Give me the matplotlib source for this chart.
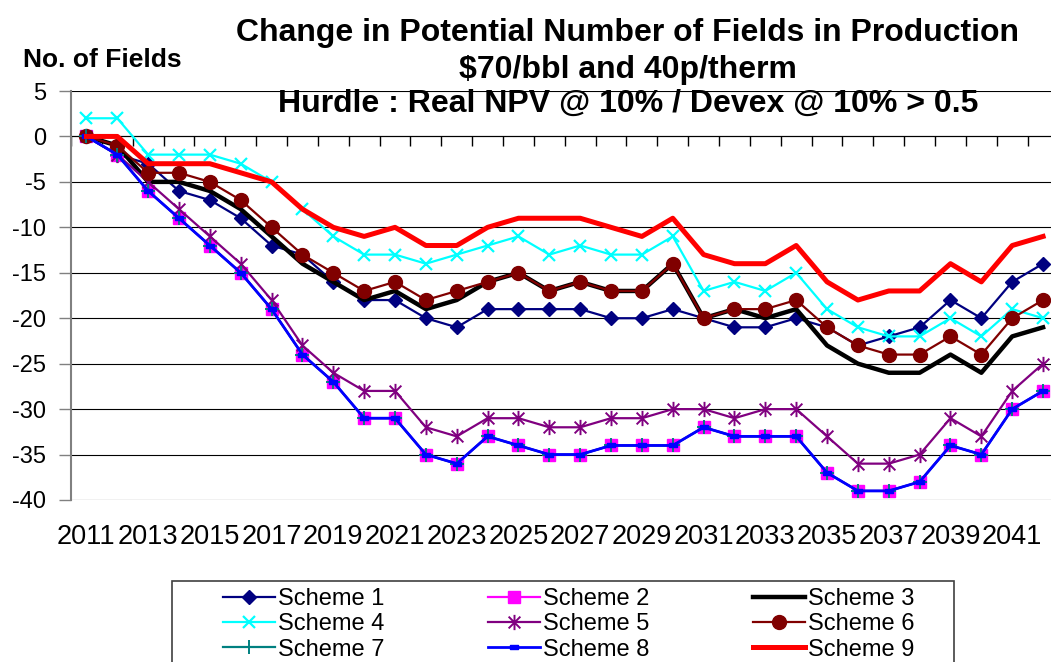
import numpy as np
import matplotlib
matplotlib.use("Agg")
import matplotlib.pyplot as plt
from matplotlib.path import Path
from matplotlib.patches import Rectangle

plt.rcParams['font.family'] = ['Liberation Sans', 'DejaVu Sans']
plt.rcParams['axes.unicode_minus'] = False

years = list(range(2011, 2043))

scheme1 = [0, -2, -3, -6, -7, -9, -12, -13, -16, -18,
           -18, -20, -21, -19, -19, -19, -19, -20, -20, -19,
           -20, -21, -21, -20, -21, -23, -22, -21, -18, -20, -16, -14]
scheme2 = [0, -2, -6, -9, -12, -15, -19, -24, -27, -31,
           -31, -35, -36, -33, -34, -35, -35, -34, -34, -34,
           -32, -33, -33, -33, -37, -39, -39, -38, -34, -35, -30, -28]
scheme3 = [0, -1, -5, -5, -6, -8, -11, -14, -16, -18,
           -17, -19, -18, -16, -15, -17, -16, -17, -17, -14,
           -20, -19, -20, -19, -23, -25, -26, -26, -24, -26, -22, -21]
scheme4 = [2, 2, -2, -2, -2, -3, -5, -8, -11, -13,
           -13, -14, -13, -12, -11, -13, -12, -13, -13, -11,
           -17, -16, -17, -15, -19, -21, -22, -22, -20, -22, -19, -20]
scheme5 = [0, -2, -5, -8, -11, -14, -18, -23, -26, -28,
           -28, -32, -33, -31, -31, -32, -32, -31, -31, -30,
           -30, -31, -30, -30, -33, -36, -36, -35, -31, -33, -28, -25]
scheme6 = [0, -1, -4, -4, -5, -7, -10, -13, -15, -17,
           -16, -18, -17, -16, -15, -17, -16, -17, -17, -14,
           -20, -19, -19, -18, -21, -23, -24, -24, -22, -24, -20, -18]
scheme7 = [0, -2, -6, -9, -12, -15, -19, -24, -27, -31,
           -31, -35, -36, -33, -34, -35, -35, -34, -34, -34,
           -32, -33, -33, -33, -37, -39, -39, -38, -34, -35, -30, -28]
scheme8 = [0, -2, -6, -9, -12, -15, -19, -24, -27, -31,
           -31, -35, -36, -33, -34, -35, -35, -34, -34, -34,
           -32, -33, -33, -33, -37, -39, -39, -38, -34, -35, -30, -28]
scheme9 = [0, 0, -3, -3, -3, -4, -5, -8, -10, -11,
           -10, -12, -12, -10, -9, -9, -9, -10, -11, -9,
           -13, -14, -14, -12, -16, -18, -17, -17, -14, -16, -12, -11]

labels = [f"Scheme {i}" for i in range(1, 10)]

# excel-like markers
asterisk = Path([(-1, -1), (1, 1), (-1, 1), (1, -1), (0, -1.3), (0, 1.3)],
                [Path.MOVETO, Path.LINETO] * 3)
dash = Path([(-1, -0.45), (1, -0.45), (1, 0.45), (-1, 0.45), (-1, -0.45)],
            [Path.MOVETO, Path.LINETO, Path.LINETO, Path.LINETO, Path.CLOSEPOLY])

styles = [
    dict(color="#000080", lw=1.6, marker="D", ms=7.5),
    dict(color="#FF00FF", lw=1.6, marker="s", ms=9),
    dict(color="black", lw=3.2),
    dict(color="#00FFFF", lw=1.6, marker="x", ms=9, mew=1.6),
    dict(color="#800080", lw=1.6, marker=asterisk, ms=11, mew=1.4),
    dict(color="#800000", lw=1.6, marker="o", ms=10),
    dict(color="#008080", lw=1.6, marker="+", ms=10, mew=1.4),
    dict(color="#0000FF", lw=2.0, marker=dash, ms=6),
    dict(color="#FF0000", lw=3.6),
]
series = [scheme1, scheme2, scheme3, scheme4, scheme5, scheme6, scheme7, scheme8, scheme9]

W, H = 1051, 662
fig = plt.figure(figsize=(W / 100, H / 100), dpi=100)
ax = fig.add_axes([71 / W, 1 - 500 / H, (1058.5 - 71) / W, 409 / H])

x = np.arange(len(years))
handles = []
for vals, st, lab in zip(series, styles, labels):
    h, = ax.plot(x, vals, label=lab, solid_joinstyle="round", **st)
    handles.append(h)

ax.set_xlim(-0.5, len(years) - 0.5)
ax.set_ylim(-40, 5)
ax.set_yticks(np.arange(-40, 6, 5))
ax.yaxis.grid(True, color="black", lw=0.8)
ax.set_axisbelow(True)
ax.tick_params(axis="y", labelsize=17, length=9, width=1, color="#808080", pad=9)

ax.set_xticks(x[::2])
ax.set_xticklabels([str(y) for y in years[::2]])
ax.tick_params(axis="x", labelsize=19.5, length=0, pad=17)

for s in ["top", "right", "bottom"]:
    ax.spines[s].set_visible(False)
ax.spines["left"].set_color("#808080")
ax.spines["left"].set_linewidth(1.5)

# category ticks sit on the zero line
zero_pos = (0 - (-40)) / 45
sec = ax.secondary_xaxis(zero_pos)
sec.set_xticks(np.arange(-0.5, len(years), 1))
sec.set_xticklabels([])
sec.tick_params(direction="in", length=7, width=1, color="black")
sec.spines["top"].set_color("black")
sec.spines["top"].set_linewidth(0.8)

fig.text(628 / W, 1 - 33 / H, "Change in Potential Number of Fields in Production",
         ha="center", va="center", fontsize=23, fontweight="bold")
fig.text(628 / W, 1 - 70 / H, "$70/bbl and 40p/therm",
         ha="center", va="center", fontsize=23, fontweight="bold")
fig.text(628 / W, 1 - 104 / H, "Hurdle : Real NPV @ 10% / Devex @ 10% > 0.5",
         ha="center", va="center", fontsize=23, fontweight="bold")
fig.text(102 / W, 1 - 60 / H, "No. of Fields", ha="center", va="center",
         fontsize=19, fontweight="bold")

# legend frame drawn separately (excel has wide side padding)
fig.add_artist(Rectangle((172 / W, -0.1), (954 - 172) / W, 0.1 + (1 - 581 / H),
                         transform=fig.transFigure, fill=False,
                         edgecolor="#404040", lw=1.2))
order = [0, 3, 6, 1, 4, 7, 2, 5, 8]
fig.legend([handles[i] for i in order], [labels[i] for i in order],
           loc="upper left", bbox_to_anchor=(223 / W, 1 - 588 / H),
           ncol=3, frameon=False, fontsize=17, borderpad=0, borderaxespad=0,
           handlelength=2.2, handletextpad=0.12, columnspacing=4.4,
           labelspacing=0.14)

fig.savefig("out.png", dpi=100)
